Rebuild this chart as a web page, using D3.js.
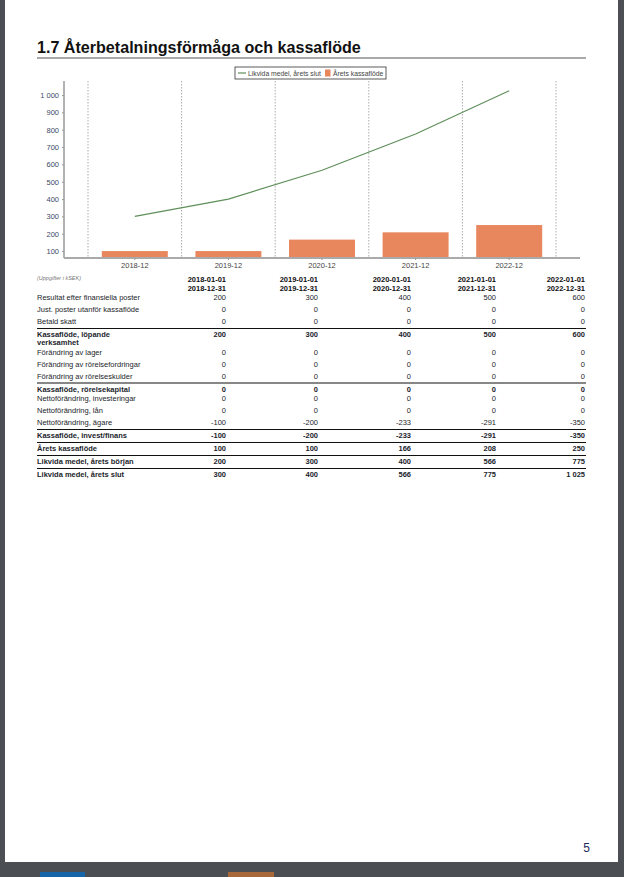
<!DOCTYPE html>
<html>
<head>
<meta charset="utf-8">
<script src="https://cdn.jsdelivr.net/npm/d3@7"></script>
<style>
  body { margin: 0; background: #4b4e52; }
  svg { display: block; font-family: "Liberation Sans", Arial, sans-serif; }
</style>
</head>
<body>
<div class="sida"></div>
<script>
// chart data
const perioder = ["2018-12", "2019-12", "2020-12", "2021-12", "2022-12"];
const aretsKassaflode = [100, 100, 166, 208, 250];
const likvidaSlut = [300, 400, 566, 775, 1025];
const yTicks = [100, 200, 300, 400, 500, 600, 700, 800, 900, 1000];

// table data
const periodStart = ["2018-01-01", "2019-01-01", "2020-01-01", "2021-01-01", "2022-01-01"];
const periodSlut = ["2018-12-31", "2019-12-31", "2020-12-31", "2021-12-31", "2022-12-31"];
const resultat = [200, 300, 400, 500, 600];
const justPoster = [0, 0, 0, 0, 0];
const betaldSkatt = [0, 0, 0, 0, 0];
const lopande = [200, 300, 400, 500, 600];
const lager = [0, 0, 0, 0, 0];
const fordringar = [0, 0, 0, 0, 0];
const skulder = [0, 0, 0, 0, 0];
const rorelsekapital = [0, 0, 0, 0, 0];
const investeringar = [0, 0, 0, 0, 0];
const lan = [0, 0, 0, 0, 0];
const agare = [-100, -200, -233, -291, -350];
const investFinans = [-100, -200, -233, -291, -350];
const likvidaBorjan = [200, 300, 400, 566, 775];

// summa-rader är feta och har en linje ovanför
const rader = [
  { label: ["Resultat efter finansiella poster"], v: resultat },
  { label: ["Just. poster utanför kassaflöde"], v: justPoster },
  { label: ["Betald skatt"], v: betaldSkatt },
  { label: ["Kassaflöde, löpande", "verksamhet"], v: lopande, summa: true },
  { label: ["Förändring av lager"], v: lager },
  { label: ["Förändring av rörelsefordringar"], v: fordringar },
  { label: ["Förändring av rörelseskulder"], v: skulder },
  { label: ["Kassaflöde, rörelsekapital"], v: rorelsekapital, summa: true },
  { label: ["Nettoförändring, investeringar"], v: investeringar },
  { label: ["Nettoförändring, lån"], v: lan },
  { label: ["Nettoförändring, ägare"], v: agare },
  { label: ["Kassaflöde, invest/finans"], v: investFinans, summa: true },
  { label: ["Årets kassaflöde"], v: aretsKassaflode, summa: true },
  { label: ["Likvida medel, årets början"], v: likvidaBorjan, summa: true },
  { label: ["Likvida medel, årets slut"], v: likvidaSlut, summa: true }
];

const width = 624, height = 877;
const fmt = d3.formatLocale({ decimal: ",", thousands: "\u00a0", grouping: [3], currency: ["", " kr"], minus: "-" }).format(",d");

const svg = d3.select(".sida").append("svg")
  .attr("width", width)
  .attr("height", height);

// page
svg.append("rect").attr("x", 5).attr("y", 0).attr("width", 613).attr("height", 862).attr("fill", "#fff");
svg.append("rect").attr("x", 40).attr("y", 872).attr("width", 45).attr("height", 5).attr("fill", "#1565a8");
svg.append("rect").attr("x", 228).attr("y", 872).attr("width", 46).attr("height", 5).attr("fill", "#a8683a");

svg.append("text")
  .attr("x", 37).attr("y", 53)
  .attr("font-size", 16.1).attr("font-weight", "bold").attr("fill", "#111")
  .text("1.7 Återbetalningsförmåga och kassaflöde");
svg.append("line")
  .attr("x1", 37).attr("x2", 586).attr("y1", 58).attr("y2", 58)
  .attr("stroke", "#555").attr("stroke-width", 1);

// chart
const x = d3.scaleBand().domain(perioder).range([88, 556]).padding(0);
const y = d3.scaleLinear().domain([60, 1075]).range([258, 82]);
const barW = x.bandwidth() * 0.705;

svg.append("g").selectAll("line")
  .data(d3.range(perioder.length + 1))
  .join("line")
  .attr("x1", i => 88 + i * x.step())
  .attr("x2", i => 88 + i * x.step())
  .attr("y1", 81).attr("y2", 258)
  .attr("stroke", "#aaa").attr("stroke-dasharray", "1.5,1.5");

svg.append("g")
  .selectAll("rect")
  .data(aretsKassaflode)
  .join("rect")
  .attr("x", (d, i) => x(perioder[i]) + (x.bandwidth() - barW) / 2)
  .attr("width", barW)
  .attr("y", d => y(d))
  .attr("height", d => y(60) - y(d))
  .attr("fill", "#e8865e");

const line = d3.line()
  .x((d, i) => x(perioder[i]) + x.bandwidth() / 2)
  .y(d => y(d));
svg.append("path")
  .datum(likvidaSlut)
  .attr("d", line)
  .attr("fill", "none")
  .attr("stroke", "#5f8f5a")
  .attr("stroke-width", 1.2);

// axes
const yAxis = svg.append("g")
  .attr("transform", "translate(64,0)")
  .call(d3.axisLeft(y).tickValues(yTicks).tickSize(2).tickFormat(fmt));
yAxis.select(".domain").attr("stroke", "#999").attr("stroke-width", 1.5).attr("d", "M0,81V258");
yAxis.selectAll(".tick line").attr("stroke", "#999");
yAxis.selectAll("text").attr("font-size", 7.5).attr("fill", "#3a4a66").attr("font-family", "Liberation Sans, Arial");

const xAxis = svg.append("g")
  .attr("transform", "translate(0,258)")
  .call(d3.axisBottom(x).tickSize(2).tickPadding(3));
xAxis.select(".domain").attr("stroke", "#aaa").attr("stroke-width", 2).attr("d", "M64,0H580");
xAxis.selectAll(".tick line").attr("stroke", "#999");
xAxis.selectAll("text").attr("font-size", 7.5).attr("fill", "#444").attr("font-family", "Liberation Sans, Arial");

// legend
const leg = svg.append("g").attr("font-size", 6.8).attr("fill", "#444");
leg.append("rect").attr("x", 235).attr("y", 67).attr("width", 151).attr("height", 12)
  .attr("fill", "#fff").attr("stroke", "#333").attr("stroke-width", 0.8);
leg.append("line").attr("x1", 238).attr("x2", 246).attr("y1", 73).attr("y2", 73)
  .attr("stroke", "#5f8f5a").attr("stroke-width", 1.2);
leg.append("text").attr("x", 248).attr("y", 75.5).text("Likvida medel, årets slut");
leg.append("rect").attr("x", 325).attr("y", 69.5).attr("width", 5.5).attr("height", 7).attr("fill", "#e8865e");
leg.append("text").attr("x", 333).attr("y", 75.5).text("Årets kassaflöde");

// table
const colX = [226, 318, 411, 496, 585];
const tab = svg.append("g").attr("font-size", 7.5).attr("fill", "#1b1e2b");

tab.append("text").attr("x", 37).attr("y", 280)
  .attr("font-size", 5.5).attr("font-style", "italic").attr("fill", "#777")
  .text("(Uppgifter i kSEK)");

[periodStart, periodSlut].forEach((rad, k) => {
  tab.append("g").selectAll("text").data(rad).join("text")
    .attr("x", (d, i) => colX[i]).attr("y", 282 + k * 9)
    .attr("text-anchor", "end").attr("font-weight", "bold").attr("fill", "#111")
    .text(d => d);
});

let prev = 288, steg = 12;
rader.forEach(r => {
  let base;
  if (r.summa) {
    const ly = prev + 4.5;
    tab.append("line").attr("x1", 37).attr("x2", 586).attr("y1", ly).attr("y2", ly)
      .attr("stroke", "#111").attr("stroke-width", 1.1);
    base = ly + 8.5;
  } else {
    base = prev + steg;
  }
  const g = tab.append("g").attr("font-weight", r.summa ? "bold" : "normal");
  r.label.forEach((t, li) => {
    g.append("text").attr("x", 37).attr("y", base + li * 8).text(t);
  });
  g.selectAll(".v").data(r.v).join("text")
    .attr("class", "v")
    .attr("x", (d, i) => colX[i]).attr("y", base)
    .attr("text-anchor", "end")
    .text(d => fmt(d));
  prev = base + (r.label.length - 1) * 8;
  steg = r.summa ? 9.5 : 12;
});

// page number
svg.append("text").attr("x", 590).attr("y", 852).attr("text-anchor", "end")
  .attr("font-size", 12).attr("fill", "#1d2a5c").text("5");
</script>
</body>
</html>
